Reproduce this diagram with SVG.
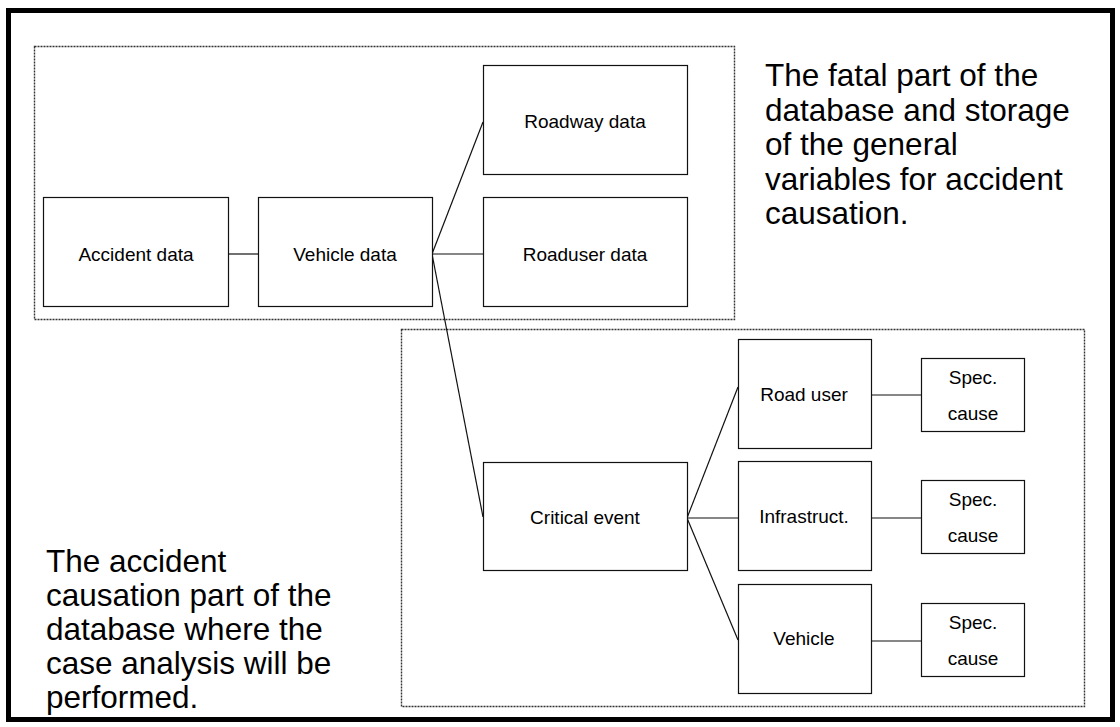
<svg xmlns="http://www.w3.org/2000/svg" width="1120" height="727" viewBox="0 0 1120 727">
<style>
.box{fill:#fff;stroke:#111;stroke-width:1.2}
.grp{fill:none;stroke:#333;stroke-width:1.4;stroke-dasharray:2 1}
.lbl{font-family:"Liberation Sans",Arial,sans-serif;font-size:19px;fill:#000;text-anchor:middle}
.big{font-family:"Liberation Sans",Arial,sans-serif;font-size:31.5px;fill:#000}
.con{stroke:#111;stroke-width:1.2;fill:none}
</style>
<rect x="0" y="0" width="1120" height="727" fill="#fff"/>
<rect x="8.5" y="10.5" width="1104" height="709" fill="none" stroke="#000" stroke-width="5"/>
<g id="group-fatal"><rect class="grp" x="34.5" y="46.5" width="700" height="273"/></g>
<g id="group-causation"><rect class="grp" x="401.5" y="329.5" width="683" height="377"/></g>
<g id="connectors">
<line class="con" x1="228" y1="254" x2="258" y2="254"/>
<line class="con" x1="432" y1="254" x2="483" y2="122"/>
<line class="con" x1="432" y1="254" x2="483" y2="254"/>
<line class="con" x1="432" y1="254" x2="483" y2="517"/>
<line class="con" x1="687" y1="518" x2="738" y2="387"/>
<line class="con" x1="687" y1="518" x2="738" y2="518"/>
<line class="con" x1="687" y1="518" x2="738" y2="640"/>
<line class="con" x1="871" y1="395" x2="921" y2="395"/>
<line class="con" x1="871" y1="518" x2="921" y2="518"/>
<line class="con" x1="871" y1="641" x2="921" y2="641"/>
</g>
<g id="accident-data"><rect class="box" x="43.5" y="197.5" width="185" height="109"/><text class="lbl" x="136" y="261">Accident data</text></g>
<g id="vehicle-data"><rect class="box" x="258.5" y="197.5" width="174" height="109"/><text class="lbl" x="345" y="261">Vehicle data</text></g>
<g id="roadway-data"><rect class="box" x="483.5" y="65.5" width="204" height="109"/><text class="lbl" x="585" y="128">Roadway data</text></g>
<g id="roaduser-data"><rect class="box" x="483.5" y="197.5" width="204" height="109"/><text class="lbl" x="585" y="261">Roaduser data</text></g>
<g id="critical-event"><rect class="box" x="483.5" y="462.5" width="204" height="108"/><text class="lbl" x="585" y="524">Critical event</text></g>
<g id="road-user"><rect class="box" x="738.5" y="339.5" width="133" height="109"/><text class="lbl" x="804" y="401">Road user</text></g>
<g id="infrastruct"><rect class="box" x="738.5" y="461.5" width="133" height="109"/><text class="lbl" x="804" y="523">Infrastruct.</text></g>
<g id="vehicle"><rect class="box" x="738.5" y="584.5" width="133" height="109"/><text class="lbl" x="804" y="645">Vehicle</text></g>
<g id="spec-cause-1"><rect class="box" x="921.5" y="358.5" width="103" height="73"/><text class="lbl" x="973" y="384">Spec.</text><text class="lbl" x="973" y="420">cause</text></g>
<g id="spec-cause-2"><rect class="box" x="921.5" y="480.5" width="103" height="73"/><text class="lbl" x="973" y="506">Spec.</text><text class="lbl" x="973" y="542">cause</text></g>
<g id="spec-cause-3"><rect class="box" x="921.5" y="603.5" width="103" height="73"/><text class="lbl" x="973" y="629">Spec.</text><text class="lbl" x="973" y="665">cause</text></g>
<g id="note-fatal">
<text class="big" x="765" y="86">The fatal part of the</text>
<text class="big" x="765" y="120.5">database and storage</text>
<text class="big" x="765" y="155">of the general</text>
<text class="big" x="765" y="189.5">variables for accident</text>
<text class="big" x="765" y="224">causation.</text>
</g>
<g id="note-causation">
<text class="big" x="46" y="572">The accident</text>
<text class="big" x="46" y="606">causation part of the</text>
<text class="big" x="46" y="640">database where the</text>
<text class="big" x="46" y="674">case analysis will be</text>
<text class="big" x="46" y="708">performed.</text>
</g>
</svg>
